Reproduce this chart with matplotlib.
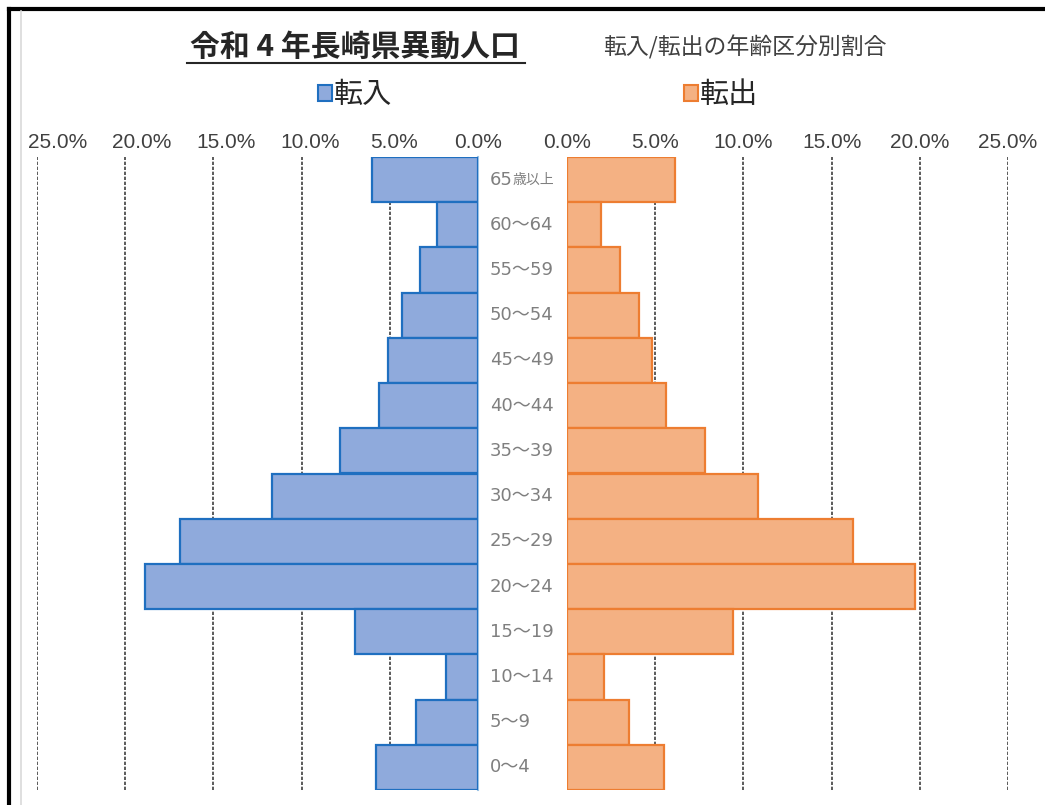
import matplotlib
matplotlib.use("Agg")
import matplotlib.pyplot as plt
from matplotlib.lines import Line2D
from matplotlib.patches import Patch
from matplotlib.ticker import FuncFormatter
import matplotlib.transforms as mtransforms

plt.rcParams['font.family'] = ['Noto Sans CJK JP', 'DejaVu Sans']

# 年齢区分 (上から)
ages = ["65", "60～64", "55～59", "50～54", "45～49", "40～44", "35～39",
        "30～34", "25～29", "20～24", "15～19", "10～14", "5～9", "0～4"]
# 転入 / 転出 の割合 (%)
tennyu = [6.0, 2.3, 3.3, 4.3, 5.1, 5.6, 7.8, 11.7, 16.9, 18.9, 7.0, 1.8, 3.5, 5.8]
tenshutsu = [6.1, 1.9, 3.0, 4.1, 4.8, 5.6, 7.8, 10.8, 16.2, 19.7, 9.4, 2.1, 3.5, 5.5]
xticks = [0, 5, 10, 15, 20, 25]

blue_fill, blue_edge = "#8FAADC", "#1F6FC0"
orange_fill, orange_edge = "#F4B183", "#ED7D31"

W, H = 1045, 805
fig = plt.figure(figsize=(W / 100, H / 100), dpi=100)

ax_l = fig.add_axes([37 / W, 1 - 790 / H, 441 / W, 633 / H])
ax_r = fig.add_axes([567 / W, 1 - 790 / H, 441 / W, 633 / H])

pos = list(range(len(ages)))
ax_l.barh(pos, tennyu, height=1.0, color=blue_fill, edgecolor=blue_edge, linewidth=1.6, zorder=3)
ax_r.barh(pos, tenshutsu, height=1.0, color=orange_fill, edgecolor=orange_edge, linewidth=1.6, zorder=3)

pct = FuncFormatter(lambda v, p: "%.1f%%" % v)
for ax in (ax_l, ax_r):
    ax.set_ylim(len(ages) - 0.5, -0.5)
    ax.set_xticks(xticks)
    ax.xaxis.set_major_formatter(pct)
    ax.xaxis.tick_top()
    ax.tick_params(axis="x", length=0, pad=3.5, labelsize=15, labelcolor="#404040")
    for lab in ax.get_xticklabels():
        lab.set_family(["Liberation Sans", "DejaVu Sans"])
    ax.set_yticks([])
    for s in ax.spines.values():
        s.set_visible(False)
    for t in xticks[1:]:
        ax.axvline(t, color="#404040", linestyle=(0, (2, 1)), linewidth=1.2, zorder=1)
    ax.set_facecolor("none")

ax_l.set_xlim(25, 0)
ax_r.set_xlim(0, 25)
ax_l.spines["right"].set_visible(True)
ax_l.spines["right"].set_color("#9DC3E6")
ax_l.spines["right"].set_linewidth(1.5)

# 左側の目盛ラベルは少し内側に寄っている
for v, lab in zip(xticks, ax_l.get_xticklabels()):
    off = mtransforms.ScaledTranslation(0.21 * v / 25, 0, fig.dpi_scale_trans)
    lab.set_transform(lab.get_transform() + off)

# 年齢区分のラベル
trans = mtransforms.blended_transform_factory(ax_r.transAxes, ax_r.transData)
for i, a in enumerate(ages):
    t = ax_r.text(-0.1746, i, a, transform=trans, ha="left", va="center",
                  fontsize=13, color="#7F7F7F", family=["DejaVu Sans", "Noto Sans CJK JP"])
    if i == 0:
        ax_r.annotate("歳以上", xy=(1, 0.08), xycoords=t, ha="left", va="bottom",
                      fontsize=10, color="#7F7F7F")

# タイトル
title = fig.text(355 / W, 1 - 47 / H, "令和 4 年長崎県異動人口", ha="center", va="center",
                 fontsize=21.5, fontweight="bold", color="#262626")
fig.text(603 / W, 1 - 47 / H, "転入/転出の年齢区分別割合", ha="left", va="center",
         fontsize=16.5, color="#404040")

handles = [Patch(facecolor=blue_fill, edgecolor=blue_edge, linewidth=1.5),
           Patch(facecolor=orange_fill, edgecolor=orange_edge, linewidth=1.5)]
fig.legend(handles, ["転入", "転出"], ncol=2, loc="center", bbox_to_anchor=(0.515, 1 - 95 / H),
           frameon=False, fontsize=21, handlelength=0.48, handleheight=0.48,
           handletextpad=0.08, columnspacing=10, labelcolor="#262626")

# 枠線
fig.add_artist(Line2D([9 / W, 9 / W], [0, 1 - 9 / H], color="black", linewidth=3))
fig.add_artist(Line2D([9 / W, 1], [1 - 9 / H, 1 - 9 / H], color="black", linewidth=3))
fig.add_artist(Line2D([21 / W, 21 / W], [0, 1 - 11 / H], color="#D9D9D9", linewidth=1.2))

# タイトル下線
fig.canvas.draw()
bb = title.get_window_extent().transformed(fig.transFigure.inverted())
fig.add_artist(Line2D([bb.x0 - 3 / W, bb.x1 + 5 / W], [1 - 63 / H, 1 - 63 / H],
                      color="#262626", linewidth=1.5))

fig.savefig("out.png", dpi=100)
